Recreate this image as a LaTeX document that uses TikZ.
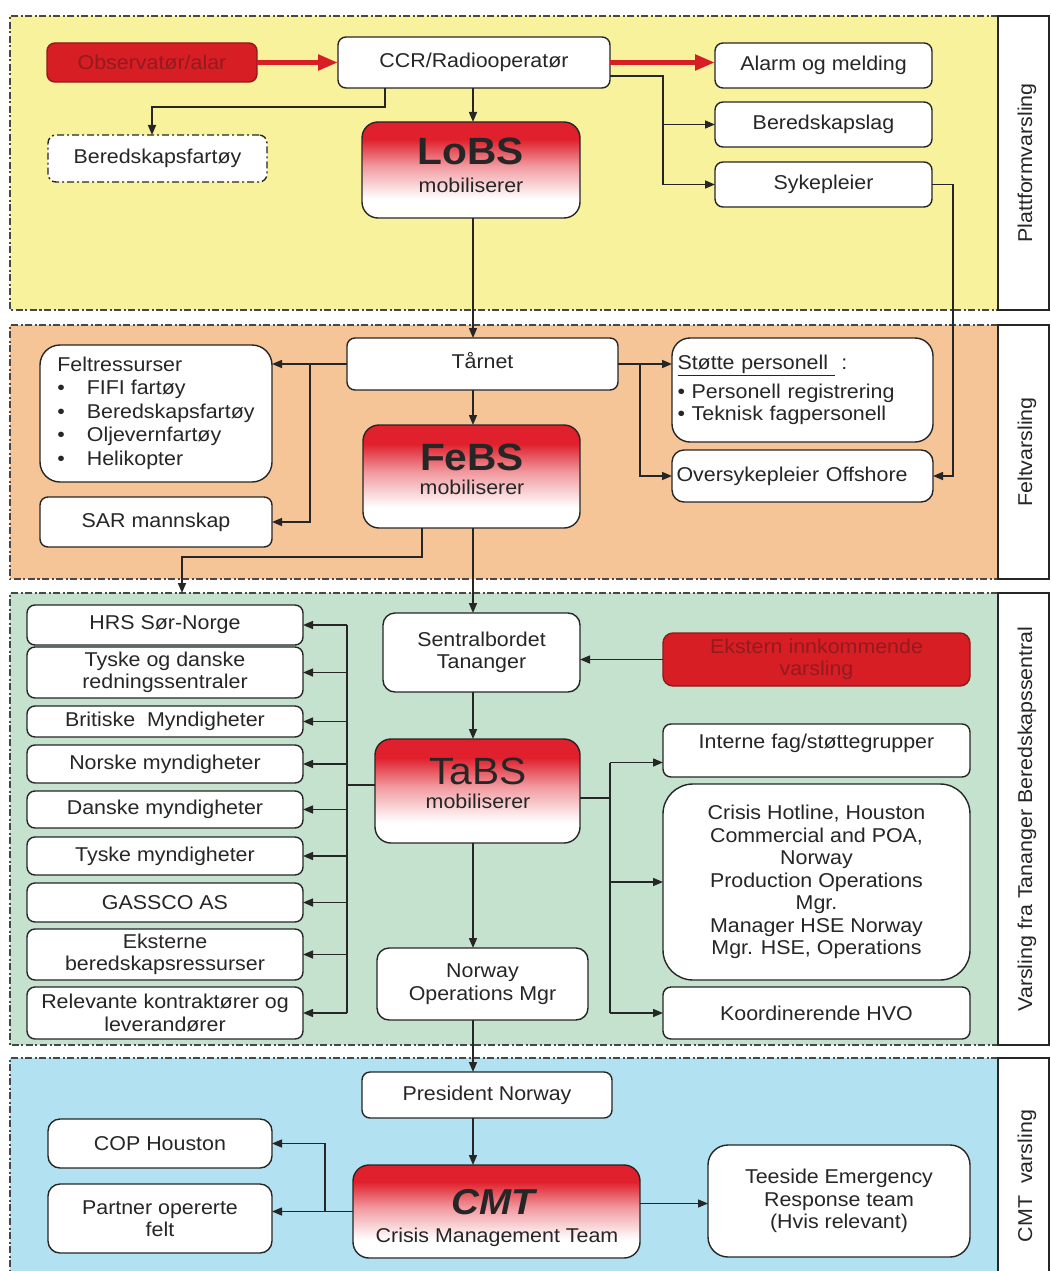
\documentclass[tikz,border=0pt]{standalone}
\usepackage{fontspec}
\setmainfont{Liberation Sans}[FakeStretch=1.07]
\usetikzlibrary{arrows.meta,calc}

\definecolor{ink}{HTML}{262626}
\definecolor{yellowband}{HTML}{F9F29C}
\definecolor{orangeband}{HTML}{F6C597}
\definecolor{greenband}{HTML}{C5E2CE}
\definecolor{blueband}{HTML}{B2E1F1}
\definecolor{alertred}{HTML}{D71E25}
\definecolor{alertdark}{HTML}{8E1A1A}
\definecolor{alerttext}{HTML}{931A1E}
\definecolor{fadered}{HTML}{E0202C}

\pgfdeclareverticalshading{redfade}{100bp}{color(0bp)=(white); color(35bp)=(white); color(52bp)=(fadered!45!white); color(66bp)=(fadered); color(100bp)=(fadered)}

% one box from its corners (x1,y1)-(x2,y2)
\newcommand\bx[7][]{\node[box,#1,minimum width={(#5)-(#3)},minimum height={(#6)-(#4)}] (#2) at ({((#3)+(#5))/2},{((#4)+(#6))/2}) {#7};}

\begin{document}
\begin{tikzpicture}[x=1pt,y=-1pt,
  frame/.style={draw=ink, line width=1.4pt, rounded corners=8pt, inner sep=0pt, outer sep=0pt,
    align=center, text=ink, font=\fontsize{20}{22.5}\selectfont},
  box/.style={frame, fill=white},
  gradbox/.style={rounded corners=16pt, shading=redfade},
  alertbox/.style={fill=alertred, draw=alertdark, text=alerttext},
  dashbox/.style={dash pattern=on 7pt off 3pt on 2pt off 3pt},
  bigtxt/.style={text=ink, inner sep=0pt, font=\fontsize{38}{42}\selectfont},
  smalltxt/.style={text=ink, inner sep=0pt, font=\fontsize{20}{22}\selectfont},
  arr/.style={draw=ink, line width=1.5pt, -{Triangle[length=10pt,width=8pt]}},
  redarr/.style={draw=alertred, line width=5pt, -{Triangle[length=20pt,width=15pt]}},
  conn/.style={draw=ink, line width=1.5pt},
  band/.style={draw=ink!85, line width=1.3pt, dash pattern=on 7pt off 2.5pt on 2pt off 2.5pt},
  tag/.style={draw=ink, line width=1.6pt, fill=white},
  tagtext/.style={rotate=90, text=ink, inner sep=0pt, font=\fontsize{20}{22}\selectfont}]

\useasboundingbox (0,0) rectangle (1050,1271);
\clip (0,0) rectangle (1050,1271);
\fill[white] (0,0) rectangle (1050,1271);

% ---------- bands with their side tags
\fill[yellowband] (10,16) rectangle (998,310);
\draw[band] (998,16) -- (10,16) -- (10,310) -- (998,310);
\draw[tag] (998,16) rectangle (1049,310);
\node[tagtext] (tag1) at (1027,163) {Plattformvarsling};

\fill[orangeband] (10,325) rectangle (998,579);
\draw[band] (998,325) -- (10,325) -- (10,579) -- (998,579);
\draw[tag] (998,325) rectangle (1049,579);
\node[tagtext] (tag2) at (1027,452) {Feltvarsling};

\fill[greenband] (10,593) rectangle (998,1045);
\draw[band] (998,593) -- (10,593) -- (10,1045) -- (998,1045);
\draw[tag] (998,593) rectangle (1049,1045);
\node[tagtext] (tag3) at (1027,819) {Varsling fra Tananger Beredskapssentral};

\fill[blueband] (10,1058) rectangle (998,1290);
\draw[band] (998,1058) -- (10,1058) -- (10,1290);
\draw[tag] (998,1058) rectangle (1049,1300);
\node[tagtext] (tag4) at (1027,1176) {CMT~ varsling};

% ---------- platform level
\bx[alertbox]{obs}{47}{43}{257}{82}{Observatør/alar}
\bx{ccr}{338}{37}{610}{88}{CCR/Radiooperatør}
\bx{alarm}{715}{43}{932}{88}{Alarm og melding}
\bx{bered}{715}{102}{932}{147}{Beredskapslag}
\bx{sykep}{715}{162}{932}{207}{Sykepleier}
\bx[dashbox]{bfart}{48}{135}{267}{182}{Beredskapsfartøy}
\bx[gradbox]{lobs}{362}{122}{580}{218}{}
\node[bigtxt] (lobsA) at (471,151) {\bfseries LoBS};
\node[smalltxt] (lobsB) at (471,185) {mobiliserer};

% ---------- field level
\bx{tarnet}{347}{338}{618}{390}{Tårnet\\[-14.5pt]\mbox{}}
\bx[rounded corners=20pt]{feltr}{40}{345}{272}{482}{\fontsize{20}{23.5}\selectfont
  \begin{tabular}{@{}l@{\hspace{22pt}}l@{}}
  \multicolumn{2}{@{}l}{Feltressurser}\\
  \textbullet & FIFI fartøy\\
  \textbullet & Beredskapsfartøy\\
  \textbullet & Oljevernfartøy\\
  \textbullet & Helikopter
  \end{tabular}}
\bx{sar}{40}{497}{272}{547}{SAR mannskap}
\bx[gradbox]{febs}{363}{425}{580}{528}{}
\node[bigtxt] (febsA) at (472,457) {\bfseries FeBS};
\node[smalltxt] (febsB) at (472,487) {mobiliserer};
\bx[rounded corners=18pt, align=left, text width=250pt]{stotte}{672}{338}{933}{442}{%
  \underline{Støtte personell }~:\\[6pt]
  \textbullet\ Personell registrering\\
  \textbullet\ Teknisk fagpersonell}
\bx[rounded corners=12pt, align=left, text width=252pt]{overs}{672}{450}{933}{502}{Oversykepleier Offshore}

% ---------- Tananger level
\bx{hrs}{27}{605}{303}{645}{HRS Sør-Norge}
\bx{tysdan}{27}{647}{303}{698}{Tyske og danske\\redningssentraler}
\bx{brit}{27}{706}{303}{737}{Britiske~ Myndigheter}
\bx{norsk}{27}{745}{303}{783}{Norske myndigheter}
\bx{dansk}{27}{791}{303}{828}{Danske myndigheter}
\bx{tysk}{27}{837}{303}{875}{Tyske myndigheter}
\bx{gassco}{27}{883}{303}{922}{GASSCO AS}
\bx{ekst}{27}{929}{303}{980}{Eksterne\\beredskapsressurser}
\bx{relev}{27}{987}{303}{1039}{Relevante kontraktører og\\leverandører}
\bx[rounded corners=12pt]{sentr}{383}{613}{580}{692}{Sentralbordet\\Tananger}
\bx[alertbox, rounded corners=10pt]{eksvar}{663}{633}{970}{686}{Ekstern innkommende\\varsling}
\bx[gradbox]{tabs}{375}{739}{580}{843}{}
\node[bigtxt] (tabsA) at (478,771) {TaBS};
\node[smalltxt] (tabsB) at (478,801) {mobiliserer};
\bx[rounded corners=12pt]{norops}{377}{948}{588}{1020}{Norway\\Operations Mgr}
\bx{interne}{663}{724}{970}{777}{Interne fag/støttegrupper\\[-4pt]\mbox{}}
\bx[rounded corners=30pt]{crisis}{663}{784}{970}{980}{\fontsize{20}{22.3}\selectfont
  Crisis Hotline, Houston\\Commercial and POA,\\Norway\\Production Operations\\Mgr.\\Manager HSE Norway\\Mgr. HSE, Operations}
\bx{koord}{663}{987}{970}{1039}{Koordinerende HVO}

% ---------- CMT level
\bx{pres}{362}{1072}{612}{1118}{President Norway}
\bx[rounded corners=12pt]{cop}{48}{1119}{272}{1168}{COP Houston}
\bx[rounded corners=12pt]{partner}{48}{1184}{272}{1253}{Partner opererte\\felt}
\bx[gradbox]{cmt}{353}{1165}{640}{1258}{}
\node[bigtxt, font=\fontsize{36}{40}\selectfont] (cmtA) at (493,1202) {\bfseries\itshape CMT};
\node[smalltxt] (cmtB) at (497,1237) {Crisis Management Team};
\bx[rounded corners=20pt]{teeside}{708}{1145}{970}{1257}{Teeside Emergency\\Response team\\(Hvis relevant)}

% ---------- junction columns
\coordinate (mx) at (473,0);
\coordinate (ccrj) at (663,0);
\coordinate (fj) at (310,0);
\coordinate (sj) at (640,0);
\coordinate (lbus) at (347,0);
\coordinate (rbus) at (610,0);
\coordinate (cj) at (325,0);
\coordinate (b3in) at (182,593);

% ---------- connectors, platform level
\draw[redarr] (obs.east) -- (obs.east -| ccr.west);
\draw[redarr] (ccr.east) -- (ccr.east -| alarm.west);
\draw[arr] (mx |- ccr.south) -- (mx |- lobs.north);
\draw[arr] ([xshift=-89pt]ccr.south) -- ++(0,19) -| ([xshift=-5.5pt]bfart.north);
\draw[arr] ([yshift=12pt]ccr.south east) -| (ccrj |- sykep.west) -- (sykep.west);
\draw[arr] (ccrj |- bered.west) -- (bered.west);
\draw[arr] (sykep.east) -- ++(21,0) |- (overs.east);
\draw[arr] (mx |- lobs.south) -- (mx |- tarnet.north);

% ---------- connectors, field level
\draw[arr] (tarnet.west) -- (tarnet.west -| feltr.east);
\draw[arr] (fj |- tarnet.west) |- (sar.east);
\draw[arr] (tarnet.east) -- (tarnet.east -| stotte.west);
\draw[arr] (sj |- tarnet.east) |- (overs.west);
\draw[arr] (mx |- tarnet.south) -- (mx |- febs.north);
\draw[arr] ([xshift=-49.5pt]febs.south) -- ++(0,29) -| (b3in);
\draw[arr] (mx |- febs.south) -- (mx |- sentr.north);

% ---------- connectors, Tananger level
\draw[arr] (eksvar.west) -- (eksvar.west -| sentr.east);
\draw[arr] (mx |- sentr.south) -- (mx |- tabs.north);
\draw[conn] ([yshift=6pt]tabs.west) -- ++(-28,0);
\draw[conn] (lbus |- hrs.east) -- (lbus |- relev.east);
\foreach \n in {hrs,tysdan,brit,norsk,dansk,tysk,gassco,ekst,relev}
  \draw[arr] (lbus |- \n.east) -- (\n.east);
\coordinate (intin) at ([yshift=-12pt]interne.west);
\draw[conn] ([yshift=-7pt]tabs.east) -- ++(30,0);
\draw[conn] (rbus |- intin) -- (rbus |- koord.west);
\draw[arr] (rbus |- intin) -- (intin);
\draw[arr] (rbus |- crisis.west) -- (crisis.west);
\draw[arr] (rbus |- koord.west) -- (koord.west);
\draw[arr] (mx |- tabs.south) -- (mx |- norops.north);
\draw[arr] (mx |- norops.south) -- (mx |- pres.north);

% ---------- connectors, CMT level
\draw[arr] (mx |- pres.south) -- (mx |- cmt.north);
\draw[arr] (cmt.west) -- (cmt.west -| partner.east);
\draw[arr] (cj |- cmt.west) |- (cop.east);
\coordinate (cmtout) at ([yshift=8pt]cmt.east);
\draw[arr] (cmtout) -- (cmtout -| teeside.west);

\end{tikzpicture}
\end{document}
